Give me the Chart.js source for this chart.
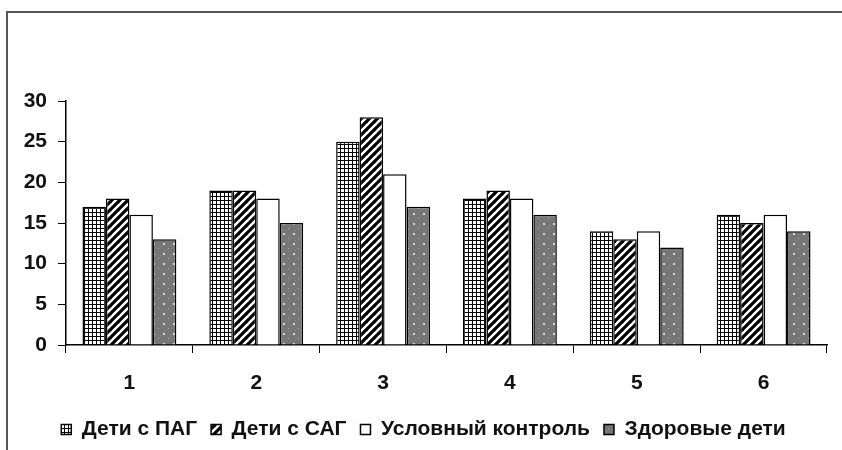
<!DOCTYPE html>
<html>
<head>
<meta charset="utf-8">
<script src="https://cdn.jsdelivr.net/npm/chart.js@4/dist/chart.umd.min.js"></script>
<style>
  body { margin: 0; background: #fff; }
  #frame {
    position: absolute;
    left: 6px;
    top: 11px;
    width: 840px;
    height: 445px;
    border-top: 2px solid #555;
    border-left: 2px solid #555;
  }
  #chart { position: absolute; left: 0; top: 0; }
</style>
</head>
<body>
<div id="frame"></div>
<canvas id="chart" width="842" height="450"></canvas>
<script>
const groups = ["1", "2", "3", "4", "5", "6"];
const seriesNames = ["Дети с ПАГ", "Дети с САГ", "Условный контроль", "Здоровые дети"];
const pag = [17, 19, 25, 18, 14, 16];
const sag = [18, 19, 28, 19, 13, 15];
const control = [16, 18, 21, 18, 14, 16];
const healthy = [13, 15, 17, 16, 12, 14];
const yTicks = [0, 5, 10, 15, 20, 25, 30];

const makePattern = (size, draw) => {
  let c = document.createElement("canvas");
  c.width = size;
  c.height = size;
  let g = c.getContext("2d");
  draw(g, size);
  return g.createPattern(c, "repeat");
};

// small square grid
const gridFill = makePattern(4, (g, s) => {
  g.fillStyle = "#fff";
  g.fillRect(0, 0, s, s);
  g.fillStyle = "#000";
  g.fillRect(0, 0, s, 1);
  g.fillRect(0, 0, 1, s);
});

// thick "/" stripes
const stripeFill = makePattern(8, (g, s) => {
  g.fillStyle = "#fff";
  g.fillRect(0, 0, s, s);
  g.strokeStyle = "#000";
  g.lineWidth = 3.2;
  [[-s, s, s, -s], [0, s, s, 0], [0, 2 * s, 2 * s, 0]].forEach(([a, b, c, d]) => {
    g.beginPath();
    g.moveTo(a, b);
    g.lineTo(c, d);
    g.stroke();
  });
});

// grey with light dots
const dotFill = makePattern(10, (g, s) => {
  g.fillStyle = "#767676";
  g.fillRect(0, 0, s, s);
  g.fillStyle = "#8a8a8a";
  g.fillRect(0, 5, 1, 1);
  g.fillRect(5, 0, 1, 1);
  g.fillStyle = "#d8d8d8";
  g.fillRect(3, 3, 2, 2);
  g.fillStyle = "#adadad";
  g.fillRect(8, 8, 1, 1);
});

const fills = [gridFill, stripeFill, "#ffffff", dotFill];
const values = [pag, sag, control, healthy];
const font = { family: "'Liberation Sans', Arial, sans-serif", size: 21, weight: "bold" };

new Chart(document.getElementById("chart").getContext("2d"), {
  type: "bar",
  data: {
    labels: groups,
    datasets: values.map((v, i) => ({
      label: seriesNames[i],
      data: v,
      backgroundColor: fills[i],
      borderColor: "#000",
      borderWidth: 1.5,
      categoryPercentage: 0.74,
      barPercentage: 1.0,
    })),
  },
  options: {
    responsive: false,
    animation: false,
    devicePixelRatio: 1,
    layout: { padding: { top: 101, left: 20, right: 15, bottom: 0 } },
    scales: {
      y: {
        min: 0,
        max: 30,
        afterBuildTicks: (scale) => {
          scale.ticks = yTicks.map((v) => ({ value: v }));
        },
        afterFit: (scale) => {
          scale.width = 46;
        },
        border: { display: true, color: "#000", width: 1.5 },
        grid: { drawOnChartArea: false, drawTicks: true, tickLength: 8, tickColor: "#000", tickWidth: 1 },
        ticks: { color: "#111", font: font, padding: 11 },
      },
      x: {
        afterFit: (scale) => {
          scale.height = 60;
        },
        border: { display: true, color: "#000", width: 1.5 },
        grid: { offset: true, drawOnChartArea: false, drawTicks: true, tickLength: 8, tickColor: "#000", tickWidth: 1 },
        ticks: { color: "#111", font: font, padding: 18 },
      },
    },
    plugins: {
      tooltip: { enabled: false },
      legend: {
        position: "bottom",
        align: "center",
        labels: {
          color: "#111",
          font: font,
          boxWidth: 10,
          boxHeight: 10,
          padding: 14,
        },
      },
    },
  },
});
</script>
</body>
</html>
